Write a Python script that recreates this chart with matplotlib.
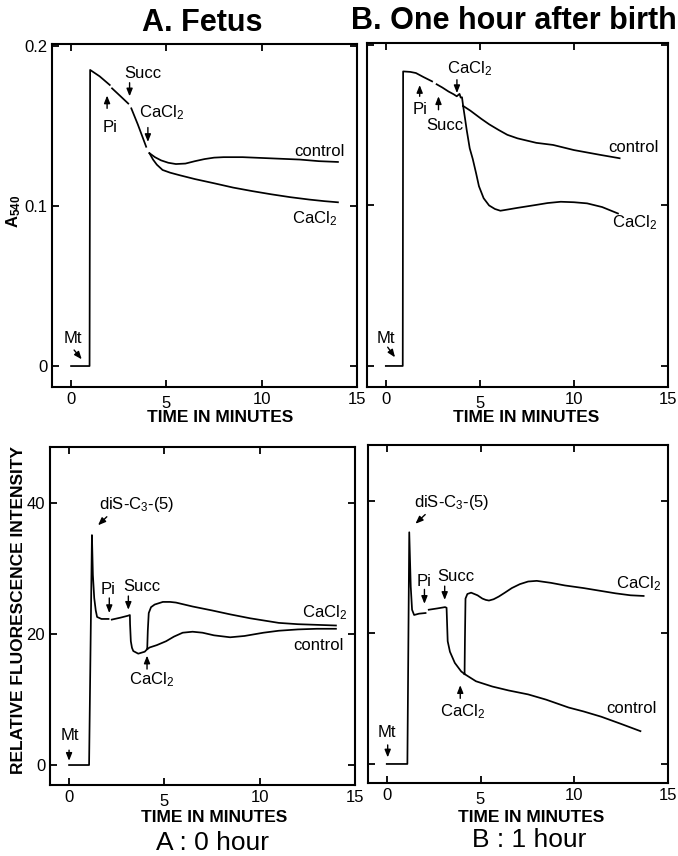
import numpy as np
import matplotlib
matplotlib.use("Agg")
import matplotlib.pyplot as plt

plt.rcParams['font.family'] = ['Liberation Sans', 'DejaVu Sans']
plt.rcParams['mathtext.fontset'] = 'custom'
plt.rcParams['mathtext.rm'] = 'Liberation Sans'
plt.rcParams['mathtext.it'] = 'Liberation Sans:italic'
plt.rcParams['mathtext.bf'] = 'Liberation Sans:bold'

nan = np.nan

# ---------------- data ----------------
x_ticks = [0, 5, 10, 15]
abs_ticks = [0, 0.1, 0.2]
abs_tick_labels = ["0", "0.1", "0.2"]
fl_ticks = [0, 20, 40]
fl_tick_labels = ["0", "20", "40"]

# A. Fetus - absorbance (A540)
fetus_abs_t = [0, 0.97, 1.0, 1.5, 2.03, nan, 2.15, 2.6, 3.0, nan, 3.16, 3.5, 3.94]
fetus_abs_a = [0, 0, 0.185, 0.181, 0.1756, nan, 0.1735, 0.1685, 0.164, nan, 0.161, 0.151, 0.137]
fetus_abs_ctrl_t = [4.11, 4.4, 4.72, 5.1, 5.5, 6.0, 6.5, 7.0, 7.5, 8.0, 9.0, 10.0, 11.0, 12.0, 13.0, 14.0]
fetus_abs_ctrl_a = [0.133, 0.1305, 0.1285, 0.127, 0.1262, 0.1265, 0.128, 0.1293, 0.1302, 0.1305,
                    0.1305, 0.130, 0.1295, 0.129, 0.128, 0.1275]
fetus_abs_ca_t = [4.11, 4.3, 4.5, 4.8, 5.2, 5.7, 6.5, 7.5, 8.5, 9.5, 10.5, 11.5, 12.5, 13.3, 14.0]
fetus_abs_ca_a = [0.133, 0.129, 0.1258, 0.1225, 0.1208, 0.1192, 0.1168, 0.1142, 0.1115, 0.1093,
                  0.1073, 0.1055, 0.104, 0.103, 0.1023]

# B. One hour after birth - absorbance
newborn_abs_t = [0, 0.9, 0.92, 1.3, 1.6, 2.0, 2.46, nan, 2.7, 3.0, 3.33, 3.6, 3.77, 3.85, 3.92,
                 3.98, 4.05, 4.11]
newborn_abs_a = [0, 0, 0.1835, 0.1832, 0.1825, 0.180, 0.1773, nan, 0.1755, 0.1735, 0.171, 0.1693,
                 0.168, 0.1688, 0.1695, 0.1672, 0.1674, 0.162]
newborn_abs_ctrl_t = [4.11, 4.5, 5.07, 5.5, 6.0, 6.46, 7.0, 8.0, 8.89, 10.0, 11.4, 12.43]
newborn_abs_ctrl_a = [0.162, 0.159, 0.154, 0.1505, 0.147, 0.144, 0.1418, 0.139, 0.1377, 0.1345,
                      0.1315, 0.1294]
newborn_abs_ca_t = [4.11, 4.2, 4.3, 4.46, 4.62, 4.8, 4.95, 5.2, 5.49, 5.8, 6.09, 6.5, 7.0, 7.92,
                    8.6, 9.3, 10.0, 10.7, 11.5, 12.34]
newborn_abs_ca_a = [0.162, 0.155, 0.147, 0.1356, 0.129, 0.12, 0.112, 0.1045, 0.1, 0.0978, 0.0967,
                    0.0975, 0.0985, 0.1002, 0.1015, 0.1023, 0.102, 0.1013, 0.099, 0.095]

# A : 0 hour - fluorescence
fetus_fl_t = [0, 1.05, 1.2, 1.25, 1.32, 1.4, 1.47, 1.7, 2.07, nan, 2.24, 2.7, 3.1, 3.19, 3.2,
              3.24, 3.3, 3.37, 3.63, 3.97, 4.1]
fetus_fl_i = [0, 0, 35.1, 29, 25.5, 23.6, 22.6, 22.3, 22.3, nan, 22.2, 22.5, 22.8, 22.9, 21.5,
              18.9, 17.9, 17.4, 17.0, 17.3, 17.7]
fetus_fl_ctrl_t = [4.1, 4.23, 4.6, 5.09, 5.5, 5.96, 6.48, 7.0, 7.6, 8.45, 9.2, 10.2, 11.0, 12.0,
                   13.0, 14.0]
fetus_fl_ctrl_i = [17.7, 17.95, 18.3, 18.9, 19.6, 20.2, 20.35, 20.2, 19.8, 19.5, 19.7, 20.2,
                   20.5, 20.7, 20.8, 20.8]
fetus_fl_ca_t = [4.1, 4.13, 4.18, 4.3, 4.49, 4.92, 5.3, 5.61, 6.48, 7.5, 8.45, 9.5, 11.0, 12.0,
                 13.0, 14.0]
fetus_fl_ca_i = [17.7, 20.5, 23.2, 24.1, 24.5, 24.9, 24.9, 24.8, 24.2, 23.6, 23.0, 22.4, 21.7,
                 21.5, 21.4, 21.3]

# B : 1 hour - fluorescence
newborn_fl_t = [0, 1.1, 1.2, 1.28, 1.35, 1.46, 1.72, 2.07, nan, 2.24, 2.7, 3.11, 3.19, 3.25,
                3.37, 3.63, 3.97, 4.15]
newborn_fl_i = [0, 0, 35.3, 27, 23.5, 22.7, 22.9, 23.0, nan, 23.5, 23.7, 23.9, 23.8, 18.7,
                17.1, 15.4, 14.1, 13.7]
newborn_fl_ctrl_t = [4.15, 4.76, 5.63, 6.5, 7.54, 8.5, 9.7, 10.5, 11.44, 12.5, 13.53]
newborn_fl_ctrl_i = [13.7, 12.6, 11.8, 11.2, 10.6, 9.8, 8.6, 8.0, 7.2, 6.1, 5.0]
newborn_fl_ca_t = [4.15, 4.17, 4.2, 4.3, 4.5, 4.84, 5.1, 5.28, 5.45, 5.7, 5.97, 6.3, 6.67, 7.1,
                   7.54, 8.0, 8.75, 9.5, 10.5, 11.35, 12.2, 13.0, 13.7]
newborn_fl_ca_i = [13.7, 19, 25.2, 25.9, 26.1, 25.7, 25.2, 25.0, 24.9, 25.1, 25.5, 26.1, 26.8,
                   27.4, 27.8, 27.9, 27.6, 27.2, 26.8, 26.4, 26.0, 25.7, 25.6]

# ---------------- figure ----------------
W, H = 678, 856
fig = plt.figure(figsize=(W / 100, H / 100), dpi=100)


def px_axes(l, t, r, b):
    return fig.add_axes([l / W, 1 - b / H, (r - l) / W, (b - t) / H])


ax_tl = px_axes(52, 44, 357, 387)
ax_tr = px_axes(367, 43, 668, 387)
ax_bl = px_axes(50, 447, 355, 785)
ax_br = px_axes(368, 445, 668, 783)

LW = 1.25
ANN_FS = 12
TICK_FS = 12
arrow_kw = dict(arrowstyle='-|>,head_length=0.45,head_width=0.18', lw=1.0, color='k',
                shrinkA=0, shrinkB=0)


def style(ax, yticks, ylabels, ylim, show_ylabels):
    ax.set_xlim(-1, 15)
    ax.set_ylim(*ylim)
    ax.set_xticks(x_ticks)
    ax.set_xticklabels([str(v) for v in x_ticks])
    ax.set_yticks(yticks)
    ax.set_yticklabels(ylabels if show_ylabels else [])
    ax.tick_params(direction='in', top=True, right=True, length=5, width=1.3,
                   labelsize=TICK_FS, pad=3.5)
    ax.tick_params(axis='y', labelleft=show_ylabels)
    ax.xaxis.get_major_ticks()[1].set_pad(6.5)
    for s in ax.spines.values():
        s.set_linewidth(1.5)


def arrow(ax, head, tail):
    ax.annotate('', xy=head, xytext=tail, arrowprops=arrow_kw)


def label(ax, x, y, s, ha='center'):
    ax.text(x, y, s, ha=ha, va='center', fontsize=ANN_FS)


CACL2 = r"CaCl$_\mathregular{2}$"
DIS = r"diS-C$_\mathregular{3}$-(5)"

# --- top-left: A. Fetus absorbance ---
ax = ax_tl
ax.plot(fetus_abs_t, fetus_abs_a, color='k', lw=LW)
ax.plot(fetus_abs_ctrl_t, fetus_abs_ctrl_a, color='k', lw=LW)
ax.plot(fetus_abs_ca_t, fetus_abs_ca_a, color='k', lw=LW)
style(ax, abs_ticks, abs_tick_labels, (-0.0131, 0.2012), True)
label(ax, 0.08, 0.0169, "Mt")
arrow(ax, (0.56, 0.0042), (0.16, 0.010))
label(ax, 2.06, 0.149, "Pi")
arrow(ax, (1.89, 0.169), (1.89, 0.161))
label(ax, 3.78, 0.183, "Succ")
arrow(ax, (3.07, 0.1685), (3.07, 0.177))
label(ax, 4.74, 0.158, CACL2)
arrow(ax, (4.03, 0.140), (4.03, 0.149))
label(ax, 11.7, 0.134, "control", ha='left')
label(ax, 11.6, 0.092, CACL2, ha='left')

# --- top-right: B. One hour after birth absorbance ---
ax = ax_tr
ax.plot(newborn_abs_t, newborn_abs_a, color='k', lw=LW)
ax.plot(newborn_abs_ctrl_t, newborn_abs_ctrl_a, color='k', lw=LW)
ax.plot(newborn_abs_ca_t, newborn_abs_ca_a, color='k', lw=LW)
style(ax, abs_ticks, abs_tick_labels, (-0.0131, 0.2012), False)
label(ax, 0.0, 0.0169, "Mt")
arrow(ax, (0.49, 0.0054), (0.1, 0.0117))
label(ax, 1.8, 0.160, "Pi")
arrow(ax, (1.8, 0.175), (1.8, 0.168))
label(ax, 3.12, 0.1497, "Succ")
arrow(ax, (2.8, 0.168), (2.8, 0.1596))
label(ax, 4.45, 0.185, CACL2)
arrow(ax, (3.78, 0.170), (3.78, 0.1783))
label(ax, 11.8, 0.136, "control", ha='left')
label(ax, 12.0, 0.089, CACL2, ha='left')

# --- bottom-left: A : 0 hour fluorescence ---
ax = ax_bl
ax.plot(fetus_fl_t, fetus_fl_i, color='k', lw=LW)
ax.plot(fetus_fl_ctrl_t, fetus_fl_ctrl_i, color='k', lw=LW)
ax.plot(fetus_fl_ca_t, fetus_fl_ca_i, color='k', lw=LW)
style(ax, fl_ticks, fl_tick_labels, (-3.05, 48.55), True)
label(ax, 3.54, 39.7, DIS)
arrow(ax, (1.52, 36.6), (1.98, 37.9))
label(ax, 2.07, 26.8, "Pi")
arrow(ax, (2.11, 23.2), (2.11, 25.5))
label(ax, 3.82, 27.2, "Succ")
arrow(ax, (3.11, 23.7), (3.11, 25.8))
label(ax, 4.34, 13.0, CACL2)
arrow(ax, (4.09, 16.7), (4.09, 14.65))
label(ax, 0.05, 4.5, "Mt")
arrow(ax, (0.0, 0.65), (0.0, 2.27))
label(ax, 12.2, 23.3, CACL2, ha='left')
label(ax, 11.75, 18.3, "control", ha='left')

# --- bottom-right: B : 1 hour fluorescence ---
ax = ax_br
ax.plot(newborn_fl_t, newborn_fl_i, color='k', lw=LW)
ax.plot(newborn_fl_ctrl_t, newborn_fl_ctrl_i, color='k', lw=LW)
ax.plot(newborn_fl_ca_t, newborn_fl_ca_i, color='k', lw=LW)
style(ax, fl_ticks, fl_tick_labels, (-2.9, 48.6), False)
label(ax, 3.47, 39.8, DIS)
arrow(ax, (1.53, 36.6), (2.05, 38.0))
label(ax, 2.0, 27.8, "Pi")
arrow(ax, (2.01, 24.4), (2.01, 26.6))
label(ax, 3.7, 28.5, "Succ")
arrow(ax, (3.09, 25.0), (3.09, 27.1))
label(ax, 4.05, 8.0, CACL2)
arrow(ax, (3.92, 12.0), (3.92, 10.0))
label(ax, 0.0, 4.8, "Mt")
arrow(ax, (0.05, 1.0), (0.05, 2.9))
label(ax, 12.2, 27.5, CACL2, ha='left')
label(ax, 11.7, 8.4, "control", ha='left')

# ---------------- figure-level texts ----------------
def ftext(x, y, s, **kw):
    fig.text(x / W, 1 - y / H, s, **kw)


ftext(202, 23, "A. Fetus", ha='center', va='center', fontsize=22, fontweight='bold')
ftext(351, 21, "B. One hour after birth", ha='left', va='center', fontsize=22,
      fontweight='bold')
ftext(220, 417, "TIME IN MINUTES", ha='center', va='center', fontsize=12.5, fontweight='bold')
ftext(526, 417, "TIME IN MINUTES", ha='center', va='center', fontsize=12.5, fontweight='bold')
ftext(214, 817, "TIME IN MINUTES", ha='center', va='center', fontsize=12.5, fontweight='bold')
ftext(531, 817, "TIME IN MINUTES", ha='center', va='center', fontsize=12.5, fontweight='bold')
ftext(212, 843, "A : 0 hour", ha='center', va='center', fontsize=19)
ftext(529, 840, "B : 1 hour", ha='center', va='center', fontsize=19)
ftext(14, 211, r"$\mathbf{A_{540}}$", ha='center', va='center', fontsize=12, rotation=90)
ftext(19, 610, "RELATIVE FLUORESCENCE INTENSITY", ha='center', va='center', fontsize=12.5,
      fontweight='bold', rotation=90)

fig.savefig("out.png", dpi=100, facecolor='white')
